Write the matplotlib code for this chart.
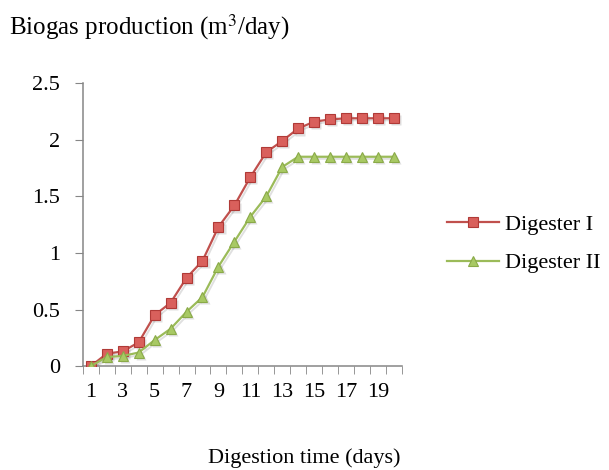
import matplotlib
matplotlib.use("Agg")
import matplotlib.pyplot as plt
import matplotlib.transforms as mtransforms

days = list(range(1, 21))
digester_1 = [0, 0.11, 0.13, 0.21, 0.45, 0.56, 0.78, 0.93, 1.23, 1.42, 1.67, 1.89, 1.99, 2.10, 2.16, 2.18, 2.19, 2.19, 2.19, 2.19]
digester_2 = [0, 0.08, 0.09, 0.12, 0.23, 0.33, 0.48, 0.61, 0.88, 1.10, 1.32, 1.50, 1.76, 1.85, 1.85, 1.85, 1.85, 1.85, 1.85, 1.85]
x_tick_labels = [str(d) for d in range(1, 21, 2)]
y_ticks = [0, 0.5, 1, 1.5, 2, 2.5]
y_tick_labels = ['0', '0.5', '1', '1.5', '2', '2.5']

plt.rcParams['font.family'] = ['Liberation Serif', 'DejaVu Serif']
FS = 16

fig = plt.figure(figsize=(6.09, 4.70), dpi=100)
ax = fig.add_axes([0.136, 0.221, 0.524, 0.602])

shadow_tr = mtransforms.offset_copy(ax.transData, fig=fig, x=1.5, y=-1.5, units='points')
for ys, mk in [(digester_1, 's'), (digester_2, '^')]:
    ax.plot(days, ys, color='#000000', alpha=0.12, lw=1.4, marker=mk, ms=7,
            mec='none', transform=shadow_tr, zorder=1)

ax.plot(days, digester_1, color='#C0504D', lw=1.6, marker='s', ms=7,
        mfc='#D9605C', mec='#B03A37', mew=0.8, label='Digester I', zorder=3)
ax.plot(days, digester_2, color='#9BBB59', lw=1.6, marker='^', ms=7.5,
        mfc='#A8C964', mec='#8AAA48', mew=0.8, label='Digester II', zorder=3)

ax.set_xlim(0.5, 20.5)
ax.set_ylim(0, 2.5)
ax.set_yticks(y_ticks)
ax.set_yticklabels(y_tick_labels)
ax.set_xticks(range(1, 21, 2))
ax.set_xticklabels(x_tick_labels)
ax.set_xticks([i + 0.5 for i in range(0, 21)], minor=True)
ax.tick_params(axis='x', which='major', length=0, labelsize=FS, pad=12)
ax.tick_params(axis='x', which='minor', length=5.5, color='#868686', direction='out')
ax.tick_params(axis='y', length=5.5, color='#868686', labelsize=FS, pad=11)

for s in ['top', 'right']:
    ax.spines[s].set_visible(False)
for s in ['left', 'bottom']:
    ax.spines[s].set_color('#868686')
    ax.spines[s].set_linewidth(1.1)

fig.text(0.015, 0.942, 'Biogas production (m$^3$/day)', fontsize=18, ha='left', va='center',
         math_fontfamily='stix')
fig.text(0.5, 0.026, 'Digestion time (days)', fontsize=FS, ha='center', va='center')

leg = fig.legend(loc='center left', bbox_to_anchor=(0.701, 0.481), frameon=False,
                 fontsize=FS, handlelength=2.35, labelspacing=0.8, handletextpad=0.27)

fig.savefig('out.png', dpi=100)
